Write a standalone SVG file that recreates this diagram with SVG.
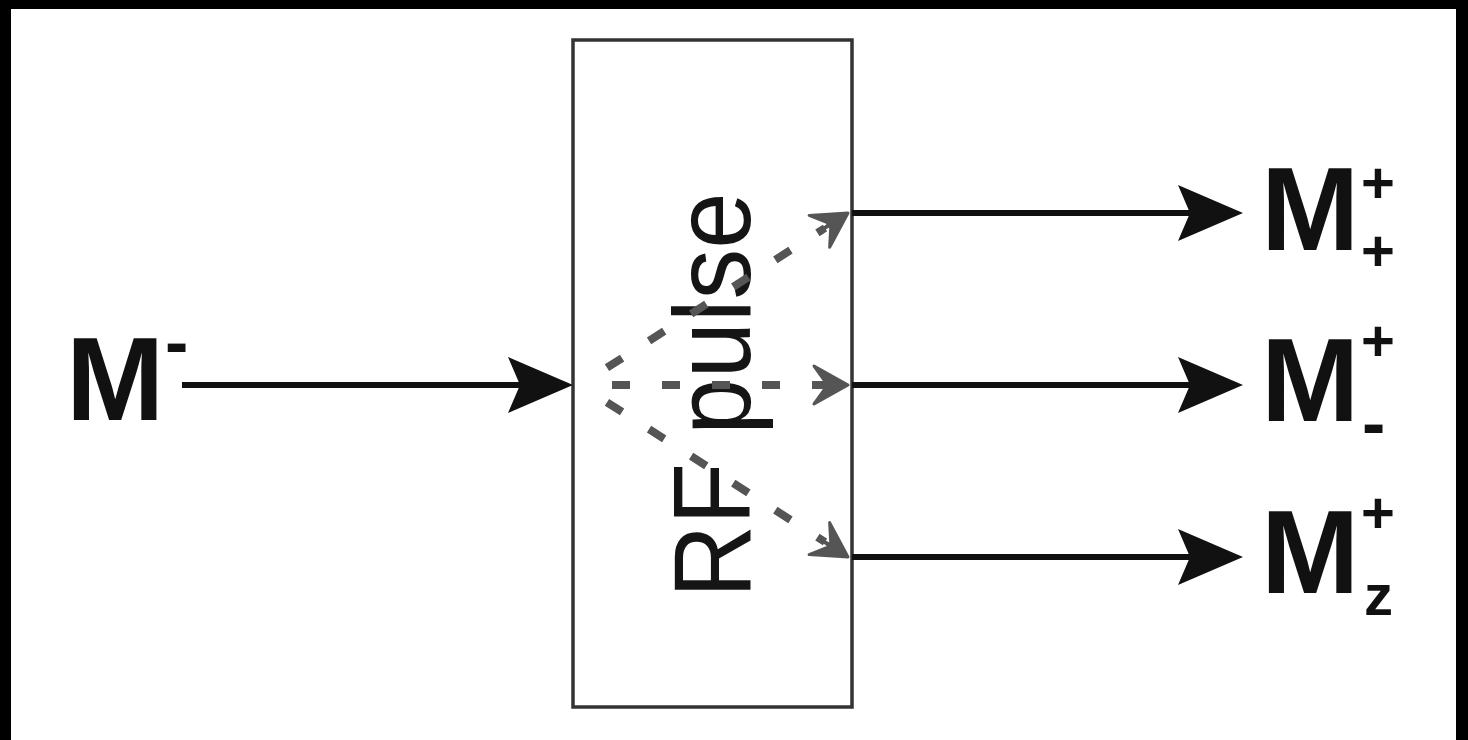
<svg xmlns="http://www.w3.org/2000/svg" width="1468" height="740" viewBox="0 0 1468 740">
  <defs>
    <style>
      .lbl { font-family: "Liberation Sans", Arial, sans-serif; font-weight: bold; fill: #111; }
      .big { font-size: 118px; }
      .small { font-size: 58px; }
      .dash { font-size: 70px; }
      .solid { stroke: #111; stroke-width: 6; fill: none; }
      .head { fill: #111; }
      .dashed { stroke: #555; stroke-width: 8; fill: none; stroke-dasharray: 18 32; stroke-dashoffset: 18; }
      .dart { fill: #555; stroke: #555; stroke-width: 3; stroke-linejoin: round; }
    </style>
    <path id="dartShape" d="M0,0 L-34,-19 L-21,-1 L-30,0 L-21,1 L-34,19 Z"/>
  </defs>
  <rect x="0" y="0" width="1468" height="740" fill="#ffffff"/>
  <rect x="0" y="0" width="1468" height="9" fill="#000"/>
  <rect x="0" y="0" width="11" height="740" fill="#000"/>
  <rect x="1456" y="0" width="12" height="740" fill="#000"/>

  <g id="rf-pulse">
    <rect x="573" y="40" width="279" height="667" fill="#fff" stroke="#333" stroke-width="3.5"/>
    <text transform="translate(750,598) rotate(-90) scale(0.93,1)" x="0" y="0" font-family="Liberation Sans, Arial, sans-serif" font-size="109" fill="#151515">RF pulse</text>
  </g>

  <g id="m-minus">
    <text class="lbl big" x="66" y="420">M</text>
    <text class="lbl dash" x="165" y="366">-</text>
  </g>
  <g id="m-plus-plus">
    <text class="lbl big" x="1261" y="250">M</text>
    <text class="lbl small" x="1361" y="203">+</text>
    <text class="lbl small" x="1361" y="271">+</text>
  </g>
  <g id="m-plus-minus">
    <text class="lbl big" x="1261" y="421">M</text>
    <text class="lbl small" x="1361" y="361">+</text>
    <text class="lbl dash" x="1362" y="447">-</text>
  </g>
  <g id="m-plus-z">
    <text class="lbl big" x="1261" y="593">M</text>
    <text class="lbl small" x="1361" y="533">+</text>
    <text class="lbl small" x="1364" y="615">z</text>
  </g>

  <g id="connectors">
    <line class="solid" x1="182" y1="385" x2="520" y2="385"/>
    <polygon class="head" points="573,385 508,357 520,385 508,413"/>

    <line class="solid" x1="852" y1="213" x2="1192" y2="213"/>
    <polygon class="head" points="1243,213 1178,185 1190,213 1178,241"/>
    <line class="solid" x1="852" y1="385" x2="1192" y2="385"/>
    <polygon class="head" points="1243,385 1178,357 1190,385 1178,413"/>
    <line class="solid" x1="852" y1="557" x2="1192" y2="557"/>
    <polygon class="head" points="1243,557 1178,529 1190,557 1178,585"/>

    <path class="dashed" d="M580,385 L825,228"/>
    <path class="dashed" d="M580,385 L825,385"/>
    <path class="dashed" d="M580,385 L825,542"/>
    <use href="#dartShape" class="dart" transform="translate(848,213) rotate(-32.7)"/>
    <use href="#dartShape" class="dart" transform="translate(848,385)"/>
    <use href="#dartShape" class="dart" transform="translate(848,557) rotate(32.7)"/>
  </g>
</svg>
